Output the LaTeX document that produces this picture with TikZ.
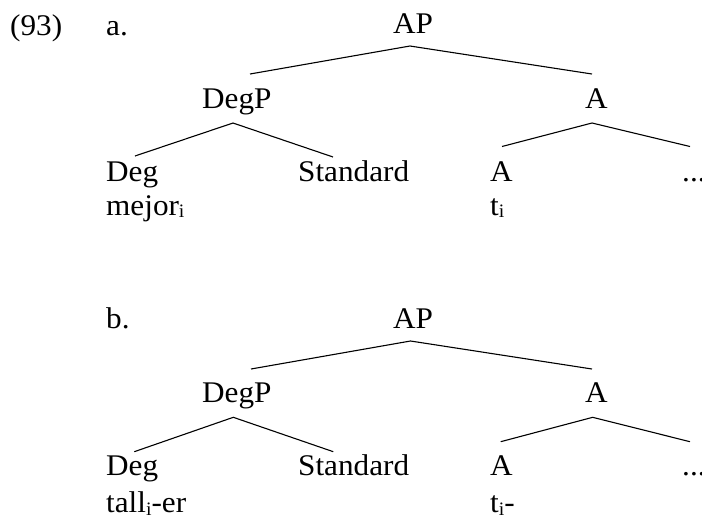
\documentclass[tikz,border=0pt]{standalone}
\usepackage{fontspec}
\setmainfont{Liberation Serif}[FakeStretch=1.04]
\newcommand\subi{\raisebox{-2.5pt}{\fontsize{19}{19}\selectfont i}}
\begin{document}
\begin{tikzpicture}[x=1pt,y=-1pt,
  lbl/.style={anchor=base west,inner sep=0pt,font=\fontsize{30}{32}\selectfont},
  branch/.style={line width=1.1pt}]
\useasboundingbox (0,0) rectangle (702,515);
% ---------- (93a) ----------
\node[lbl] (num) at (10,35) {(93)};
\node[lbl] (la) at (106,35) {a.};
\node[lbl] (apA) at (393,33.5) {AP};
\node[lbl] (degpA) at (202,108) {DegP};
\node[lbl] (aA) at (585,108) {A};
\node[lbl] (degA) at (106,181.5) {Deg};
\node[lbl] (stdA) at (298,181.5) {Standard};
\node[lbl] (aleafA) at (490,181.5) {A};
\node[lbl] (dotsA) at (682,181.5) {...};
\node[lbl] (mejor) at (106,215) {mejor\subi};
\node[lbl] (tA) at (490,215) {t\subi};
\coordinate (apA-t) at (410,46);
\coordinate (apA-l) at (250,74);
\coordinate (apA-r) at (592,74);
\coordinate (degpA-t) at (233,123);
\coordinate (degpA-l) at (135,156);
\coordinate (degpA-r) at (333,157);
\coordinate (aA-t) at (592,123);
\coordinate (aA-l) at (502,146.5);
\coordinate (aA-r) at (690,146.5);
\draw[branch] (apA-l) -- (apA-t) -- (apA-r);
\draw[branch] (degpA-l) -- (degpA-t) -- (degpA-r);
\draw[branch] (aA-l) -- (aA-t) -- (aA-r);
% ---------- (93b) ----------
\node[lbl] (lb) at (106,328) {b.};
\node[lbl] (apB) at (393,328) {AP};
\node[lbl] (degpB) at (202,402) {DegP};
\node[lbl] (aB) at (585,402) {A};
\node[lbl] (degB) at (106,475.5) {Deg};
\node[lbl] (stdB) at (298,475.5) {Standard};
\node[lbl] (aleafB) at (490,475.5) {A};
\node[lbl] (dotsB) at (682,475.5) {...};
\node[lbl] (tall) at (106,512.5) {tall\subi-er};
\node[lbl] (tB) at (490,512.5) {t\subi-};
\coordinate (apB-t) at (410.5,341);
\coordinate (apB-l) at (251,369);
\coordinate (apB-r) at (592,369);
\coordinate (degpB-t) at (233.3,417.3);
\coordinate (degpB-l) at (134.3,451.7);
\coordinate (degpB-r) at (333.3,451.7);
\coordinate (aB-t) at (592.7,417.3);
\coordinate (aB-l) at (500.7,441.7);
\coordinate (aB-r) at (690,441.7);
\draw[branch] (apB-l) -- (apB-t) -- (apB-r);
\draw[branch] (degpB-l) -- (degpB-t) -- (degpB-r);
\draw[branch] (aB-l) -- (aB-t) -- (aB-r);
\end{tikzpicture}
\end{document}
